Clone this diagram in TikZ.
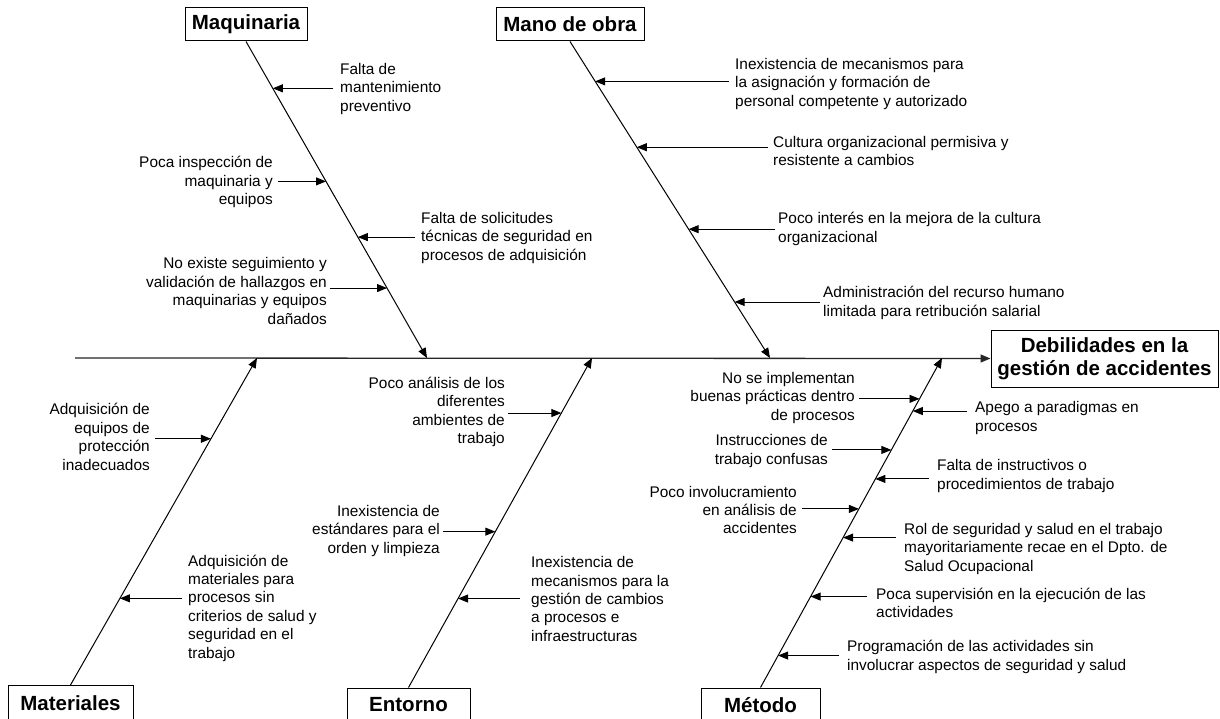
\documentclass[tikz,border=0pt]{standalone}
\usepackage{fontspec}
\setmainfont{Liberation Sans}
\usetikzlibrary{arrows.meta,calc}
\begin{document}
\begin{tikzpicture}[x=1pt,y=-1pt,
  font=\fontsize{15.4}{18.4}\selectfont,
  cat/.style={draw, line width=1pt, inner sep=0pt,
    font=\bfseries\fontsize{20.5}{23.5}\selectfont},
  causeL/.style={inner sep=0pt, align=left, anchor=west},
  causeR/.style={inner sep=0pt, align=right, anchor=east},
  tip/.style={-{Triangle[length=10pt,width=8pt]}},
  bone/.style={tip, line width=1pt},
  spine/.style={tip, line width=1.3pt, black!85},
  feeder/.style={tip, line width=0.9pt}]

% canvas
\fill[white] (0,0) rectangle (1220,719);
\useasboundingbox (0,0) rectangle (1220,719);

% effect and main spine
\node[cat, minimum width=227pt, minimum height=57pt, align=center]
  (effect) at (1104.5,358.5) {Debilidades en la\\gestión de accidentes};
\coordinate (tail) at (75,358);
\draw[spine] (tail) -- (effect.west);

% junctions on the spine
\coordinate (jm) at (427,358);
\coordinate (jo) at (770,358);
\coordinate (ja) at (257,358);
\coordinate (je) at (592,358);
\coordinate (jt) at (942,358);

% category boxes
\node[cat, minimum width=122pt, minimum height=33pt] (mq) at (246,24.5) {Maquinaria};
\node[cat, minimum width=148pt, minimum height=33pt] (mo) at (570,24.5) {Mano de obra};
\node[cat, minimum width=125pt, minimum height=36pt] (ma) at (70.5,703.5) {Materiales};
\node[cat, minimum width=123pt, minimum height=34pt] (en) at (408.5,705) {Entorno};
\node[cat, minimum width=119pt, minimum height=34pt] (me) at (760.5,705) {Método};

% main bones
\draw[bone] (mq.south) -- (jm);
\draw[bone] (mo.south) -- (jo);
\draw[bone] (ma.north) -- (ja);
\draw[bone] (en.north) -- (je);
\draw[bone] (me.north) -- (jt);

% ---- Maquinaria ----
\node[causeL] (m1) at (340,89) {Falta de\\mantenimiento\\preventivo};
\node[causeR] (m2) at (273,182) {Poca inspección de\\maquinaria y\\equipos};
\node[causeL] (m3) at (421,238) {Falta de solicitudes\\técnicas de seguridad en\\procesos de adquisición};
\node[causeR] (m4) at (327,291) {No existe seguimiento y\\validación de hallazgos en\\maquinarias y equipos\\dañados};
\coordinate (m1t) at ($(mq.south)!0.148!(jm)$);
\coordinate (m2t) at ($(mq.south)!0.442!(jm)$);
\coordinate (m3t) at ($(mq.south)!0.618!(jm)$);
\coordinate (m4t) at ($(mq.south)!0.779!(jm)$);
\draw[feeder] ([xshift=-7pt]m1.west |- m1t) -- (m1t);
\draw[feeder] ([xshift=5pt]m2.east |- m2t) -- (m2t);
\draw[feeder] ([xshift=-6pt]m3.west |- m3t) -- (m3t);
\draw[feeder] ([xshift=3pt]m4.east |- m4t) -- (m4t);

% ---- Mano de obra ----
\node[causeL] (o1) at (735,84) {Inexistencia de mecanismos para\\la asignación y formación de\\personal competente y autorizado};
\node[causeL] (o2) at (773,151) {Cultura organizacional permisiva y\\resistente a cambios};
\node[causeL] (o3) at (778,229) {Poco interés en la mejora de la cultura\\organizacional};
\node[causeL] (o4) at (823,303) {Administración del recurso humano\\limitada para retribución salarial};
\coordinate (o1t) at ($(mo.south)!0.126!(jo)$);
\coordinate (o2t) at ($(mo.south)!0.334!(jo)$);
\coordinate (o3t) at ($(mo.south)!0.593!(jo)$);
\coordinate (o4t) at ($(mo.south)!0.823!(jo)$);
\draw[feeder] ([xshift=-6pt]o1.west |- o1t) -- (o1t);
\draw[feeder] ([xshift=-5pt]o2.west |- o2t) -- (o2t);
\draw[feeder] ([xshift=-3pt]o3.west |- o3t) -- (o3t);
\draw[feeder] ([xshift=-3pt]o4.west |- o4t) -- (o4t);

% ---- Materiales ----
\node[causeR] (a1) at (150,437) {Adquisición de\\equipos de\\protección\\inadecuados};
\node[causeL] (a2) at (188,608) {Adquisición de\\materiales para\\procesos sin\\criterios de salud y\\seguridad en el\\trabajo};
\coordinate (a1t) at ($(ma.north)!0.753!(ja)$);
\coordinate (a2t) at ($(ma.north)!0.265!(ja)$);
\draw[feeder] ([xshift=5pt]a1.east |- a1t) -- (a1t);
\draw[feeder] ([xshift=-6pt]a2.west |- a2t) -- (a2t);

% ---- Entorno ----
\node[causeR] (e1) at (505,412) {Poco análisis de los\\diferentes\\ambientes de\\trabajo};
\node[causeR] (e2) at (440,531) {Inexistencia de\\estándares para el\\orden y limpieza};
\node[causeL] (e3) at (531,599) {Inexistencia de\\mecanismos para la\\gestión de cambios\\a procesos e\\infraestructuras};
\coordinate (e1t) at ($(en.north)!0.833!(je)$);
\coordinate (e2t) at ($(en.north)!0.473!(je)$);
\coordinate (e3t) at ($(en.north)!0.270!(je)$);
\draw[feeder] ([xshift=3pt]e1.east |- e1t) -- (e1t);
\draw[feeder] ([xshift=3pt]e2.east |- e2t) -- (e2t);
\draw[feeder] ([xshift=-11pt]e3.west |- e3t) -- (e3t);

% ---- Método ----
\node[causeR] (t1) at (855,398) {No se implementan\\buenas prácticas dentro\\de procesos};
\node[causeL] (t2) at (975,418) {Apego a paradigmas en\\procesos};
\node[causeR] (t3) at (828,451) {Instrucciones de\\trabajo confusas};
\node[causeL] (t4) at (937,476) {Falta de instructivos o\\procedimientos de trabajo};
\node[causeR] (t5) at (797,510) {Poco involucramiento\\en análisis de\\accidentes};
\node[causeL] (t6) at (904,549) {Rol de seguridad y salud en el trabajo\\mayoritariamente recae en el Dpto. de\\Salud Ocupacional};
\node[causeL] (t7) at (876,603) {Poca supervisión en la ejecución de las\\actividades};
\node[causeL] (t8) at (847,657) {Programación de las actividades sin\\involucrar aspectos de seguridad y salud};
\coordinate (t1t) at ($(me.north)!0.876!(jt)$);
\coordinate (t2t) at ($(me.north)!0.839!(jt)$);
\coordinate (t3t) at ($(me.north)!0.721!(jt)$);
\coordinate (t4t) at ($(me.north)!0.633!(jt)$);
\coordinate (t5t) at ($(me.north)!0.542!(jt)$);
\coordinate (t6t) at ($(me.north)!0.455!(jt)$);
\coordinate (t7t) at ($(me.north)!0.276!(jt)$);
\coordinate (t8t) at ($(me.north)!0.097!(jt)$);
\draw[feeder] ([xshift=4pt]t1.east |- t1t) -- (t1t);
\draw[feeder] ([xshift=-8pt]t2.west |- t2t) -- (t2t);
\draw[feeder] ([xshift=4pt]t3.east |- t3t) -- (t3t);
\draw[feeder] ([xshift=-8pt]t4.west |- t4t) -- (t4t);
\draw[feeder] ([xshift=5pt]t5.east |- t5t) -- (t5t);
\draw[feeder] ([xshift=-8pt]t6.west |- t6t) -- (t6t);
\draw[feeder] ([xshift=-9pt]t7.west |- t7t) -- (t7t);
\draw[feeder] ([xshift=-8pt]t8.west |- t8t) -- (t8t);
\end{tikzpicture}
\end{document}
